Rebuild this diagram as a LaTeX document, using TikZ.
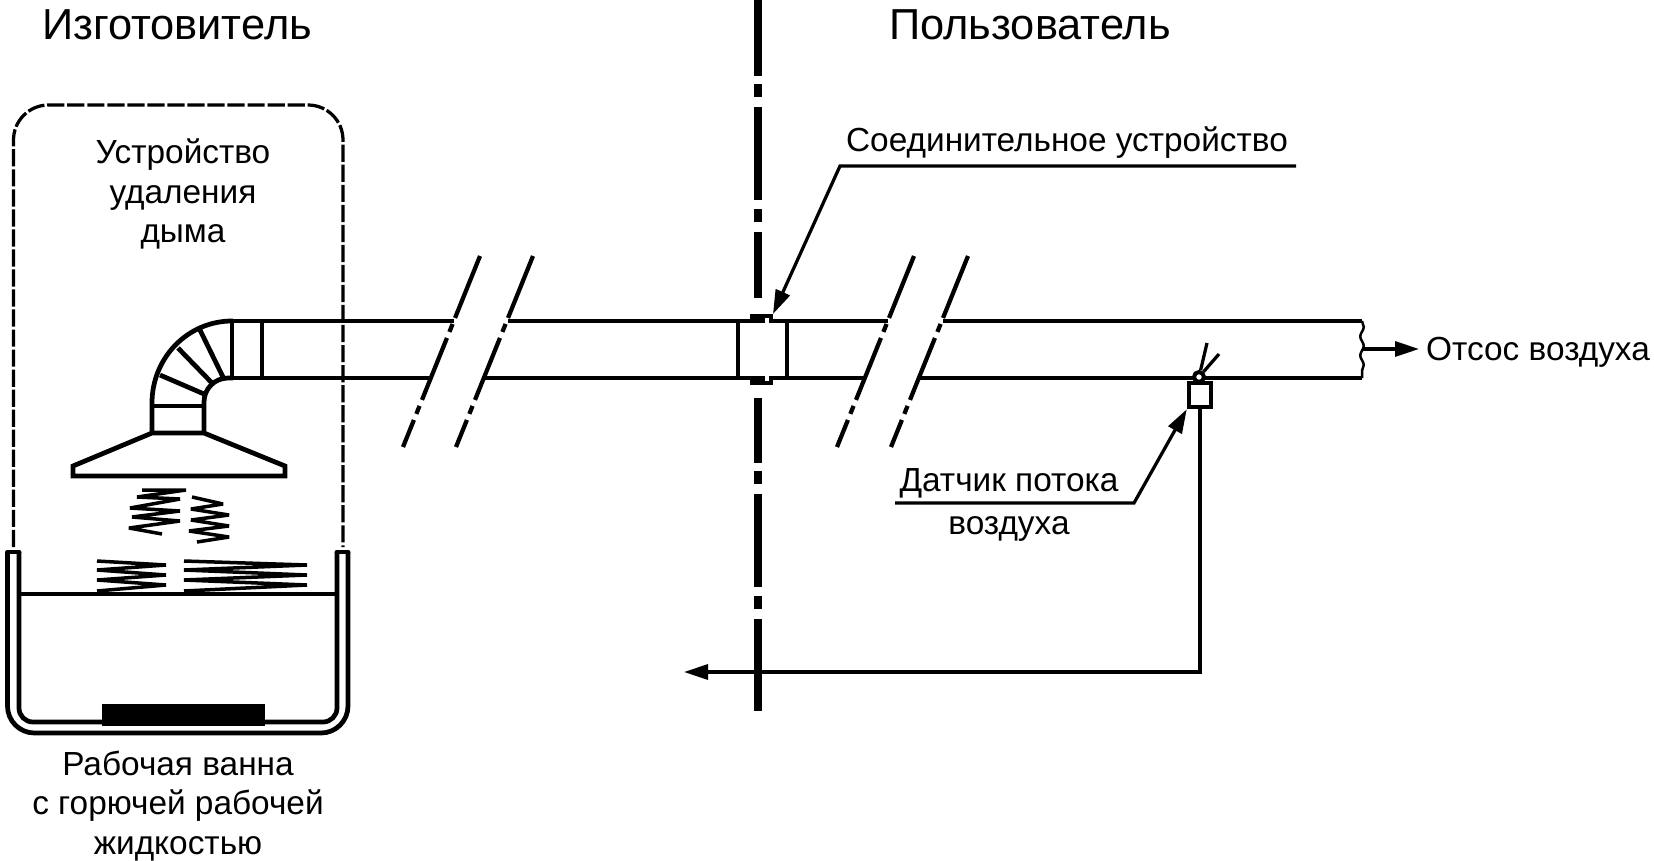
\documentclass[tikz,border=0pt]{standalone}
\usepackage{fontspec}
\setmainfont{Liberation Sans}
\usetikzlibrary{arrows.meta,decorations.pathmorphing}

\tikzset{
  pipeline/.style={line width=0.095cm},
  thinline/.style={line width=0.065cm},
  smoke/.style={line width=0.07cm, line join=bevel},
  axisline/.style={line width=0.145cm},
  breakline/.style={line width=0.085cm, dash pattern=on 38pt off 3.7pt on 4.9pt off 3.7pt},
  leader/.style={line width=0.065cm, -{Triangle[length=0.48cm,width=0.3cm]}},
  heading/.style={font=\fontsize{24.7}{30}\selectfont},
  caption/.style={font=\fontsize{19}{22.7}\selectfont, align=center}
}

\begin{document}
\begin{tikzpicture}[x=0.02cm,y=-0.02cm]
      \useasboundingbox (0,0) rectangle (1654,860);

      % Headings
      \node[heading] (maker) at (177,25) {Изготовитель};
      \node[heading] (user) at (1030,25) {Пользователь};

      % Axis between the two sides
      \draw[axisline, dash pattern=on 52.7pt off 5pt on 7.4pt off 5.7pt] (758,-17) -- (758,298);
      \draw[axisline, dash pattern=on 52.7pt off 5pt on 7.4pt off 5.7pt, dash phase=15.9pt] (758,398) -- (758,713);

      % Dashed outline
      \draw[thinline, dash pattern=on 9.8pt off 1.6pt] (13.5,547) -- (13.5,140) arc (180:270:35) -- (308,105) arc (270:360:35) -- (343,547);
      \node[caption] (hood) at (183,194) {Устройство\\удаления\\дыма};

      % Elbow and hood
      \draw[pipeline] (152,433) -- (152,403) arc (180:270:80 and 82) -- (233,321);
      \draw[pipeline] (204,433) -- (204,402) arc (180:270:24) -- (233,378);
      \draw[pipeline] (232,321) -- (232,378);
      \draw[pipeline] (262,321) -- (262,378);
      \draw[pipeline] (200,330) -- (223,377);
      \draw[pipeline] (178,348) -- (212,383);
      \draw[pipeline] (160,375) -- (204,394);
      \draw[pipeline] (152,406) -- (204,406);
      \draw[pipeline, line join=miter] (152,433) -- (204,433) -- (285,466) -- (285,476) -- (73,476) -- (73,466) -- cycle;

      % Smoke
      \draw[smoke] (142,490) -- (186,490) -- (137,497) -- (180,499) -- (130,508) -- (180,511) -- (132,517) -- (180,521) -- (129,528) -- (162,534);
      \draw[smoke] (192,497) -- (223,504) -- (191,509) -- (229,515) -- (191,520) -- (229,526) -- (189,531) -- (229,537) -- (197,542);
      \draw[smoke] (97,561) -- (166,565) -- (97,570) -- (166,575) -- (97,580) -- (166,585) -- (97,591);
      \draw[smoke] (184,561) -- (307,565) -- (184,570) -- (307,575) -- (184,580) -- (307,585) -- (184,591);

      % Bath
      \draw[pipeline, rounded corners=0.54cm] (7.5,552) -- (7.5,733) -- (348,733) -- (348,552);
      \draw[pipeline, rounded corners=0.28cm] (19,552) -- (19,722) -- (337,722) -- (337,552);
      \draw[pipeline, line cap=round] (7.5,552) -- (19,552);
      \draw[pipeline, line cap=round] (337,552) -- (348,552);
      \draw[pipeline] (19,594) -- (337,594);
      \fill (102,704) rectangle (265,726);
      \node[caption] (bath) at (178,806) {Рабочая ванна\\с горючей рабочей\\жидкостью};

      % Duct
      \draw[pipeline] (233,321) -- (454,321);
      \draw[pipeline] (228,378) -- (430,378);
      \draw[pipeline] (508,321) -- (888,321);
      \draw[pipeline] (485,378) -- (865,378);
      \draw[pipeline] (943,321) -- (1362,321);
      \draw[pipeline] (919,378) -- (1362,378);
      \draw[line width=0.05cm, decorate, decoration={snake, amplitude=0.035cm, segment length=0.38cm}] (1362,321) -- (1362,378);

      % Breaks
      \draw[breakline] (480,256) -- (403,447);
      \draw[breakline] (533,256) -- (456,447);
      \draw[breakline] (914,256) -- (837,447);
      \draw[breakline] (968,256) -- (891,447);

      % Joint
      \draw[thinline] (738,321) -- (738,378);
      \draw[thinline] (787,321) -- (787,378);
      \fill (750,314) rectangle (773,323);
      \fill (750,376) rectangle (773,385);
      \fill[white] (765,318) rectangle (769,323);
      \fill[white] (765,376) rectangle (769,381);

      % Sensor
      \node[draw, line width=0.09cm, minimum width=0.44cm, minimum height=0.48cm, inner sep=0pt] (sensor) at (1200,395) {};
      \node[draw, circle, fill=white, line width=0.08cm, minimum size=0.2cm, inner sep=0pt] (valve) at (1199,377) {};
      \coordinate (flagA) at (1207,343);
      \coordinate (flagB) at (1219,354);
      \draw[thinline] (valve) -- (flagA);
      \draw[thinline] (valve) -- (flagB);

      % Labels and arrows
      \node[caption] (joint) at (1067,143) {Соединительное устройство};
      \coordinate (jointEnd) at (1296,166);
      \coordinate (jointBend) at (840,166);
      \coordinate (jointTip) at (773,314);
      \draw[leader] (jointEnd) -- (jointBend) -- (jointTip);

      \node[caption] (flow) at (1009,505) {Датчик потока\\[1.6pt]воздуха};
      \coordinate (flowEnd) at (895,503);
      \coordinate (flowBend) at (1134,503);
      \draw[leader] (flowEnd) -- (flowBend) -- (sensor.south west);

      \coordinate (wireBend) at (1200,672);
      \coordinate (wireTip) at (684,672);
      \draw[leader] (sensor.south) -- (wireBend) -- (wireTip);

      \node[caption, anchor=west] (exhaust) at (1420,352) {Отсос воздуха};
      \coordinate (ductEnd) at (1362,349);
      \coordinate (ductTip) at (1419,349);
      \draw[leader] (ductEnd) -- (ductTip);
    \end{tikzpicture}
\end{document}
